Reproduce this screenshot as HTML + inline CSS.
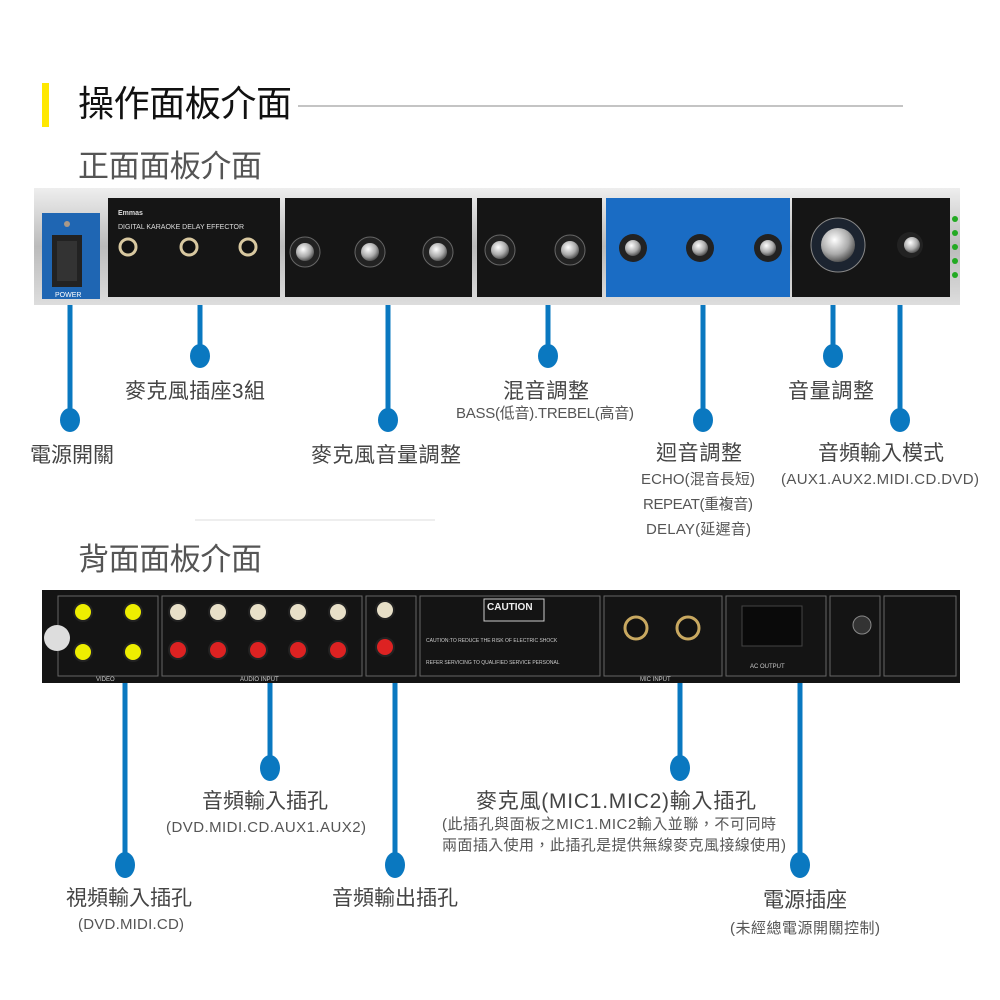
<!DOCTYPE html>
<html><head><meta charset="utf-8"><style>
html,body{margin:0;padding:0;background:#fff}
svg{display:block}
text{font-family:"Liberation Sans","Noto Sans CJK TC",sans-serif}
.l{font-size:21px;fill:#444}
.s{font-size:15px;fill:#555}
.w{font-size:5px;fill:#ccc}
</style></head><body>
<svg width="1000" height="1000" viewBox="0 0 1000 1000" xmlns="http://www.w3.org/2000/svg">
<defs>
<radialGradient id="knob" cx="40%" cy="35%" r="70%"><stop offset="0" stop-color="#fff"/><stop offset=".6" stop-color="#aaa"/><stop offset="1" stop-color="#444"/></radialGradient>
<linearGradient id="silver" x1="0" y1="0" x2="0" y2="1"><stop offset="0" stop-color="#eee"/><stop offset=".5" stop-color="#bbb"/><stop offset="1" stop-color="#ddd"/></linearGradient>
</defs>
<!-- header -->
<rect x="42" y="83" width="7" height="44" fill="#ffe800"/>
<text x="78" y="116" font-size="36" fill="#111" textLength="214">操作面板介面</text>
<line x1="298" y1="106" x2="903" y2="106" stroke="#888" stroke-width="1"/>
<text x="78" y="177" font-size="31" fill="#555" textLength="184">正面面板介面</text>
<line x1="195" y1="520" x2="435" y2="520" stroke="#eee" stroke-width="2"/>
<text x="78" y="570" font-size="31" fill="#555" textLength="184">背面面板介面</text>

<!-- front panel -->
<rect x="34" y="188" width="926" height="117" fill="url(#silver)"/>
<rect x="42" y="213" width="58" height="86" fill="#1f66b3"/>
<rect x="52" y="235" width="30" height="52" fill="#222"/>
<rect x="57" y="241" width="20" height="40" fill="#333"/>
<circle cx="67" cy="224" r="3" fill="#a98"/>
<text x="55" y="297" font-size="7" fill="#fff">POWER</text>
<rect x="108" y="198" width="172" height="99" fill="#151515"/>
<text x="118" y="215" font-size="7" fill="#ddd" font-weight="bold">Emmas</text>
<text x="118" y="229" font-size="7" fill="#ddd">DIGITAL KARAOKE DELAY EFFECTOR</text>
<g fill="#111" stroke="#d8c8a0" stroke-width="3"><circle cx="128" cy="247" r="8"/><circle cx="189" cy="247" r="8"/><circle cx="248" cy="247" r="8"/></g>
<rect x="285" y="198" width="187" height="99" fill="#151515"/>
<rect x="477" y="198" width="125" height="99" fill="#151515"/>
<rect x="606" y="198" width="184" height="99" fill="#1a6cc4"/>
<rect x="792" y="198" width="158" height="99" fill="#151515"/>
<g>
<circle cx="305" cy="252" r="15" fill="#222" stroke="#666"/><circle cx="305" cy="252" r="9" fill="url(#knob)"/>
<circle cx="370" cy="252" r="15" fill="#222" stroke="#666"/><circle cx="370" cy="252" r="9" fill="url(#knob)"/>
<circle cx="438" cy="252" r="15" fill="#222" stroke="#666"/><circle cx="438" cy="252" r="9" fill="url(#knob)"/>
<circle cx="500" cy="250" r="15" fill="#222" stroke="#666"/><circle cx="500" cy="250" r="9" fill="url(#knob)"/>
<circle cx="570" cy="250" r="15" fill="#222" stroke="#666"/><circle cx="570" cy="250" r="9" fill="url(#knob)"/>
<circle cx="633" cy="248" r="14" fill="#222"/><circle cx="633" cy="248" r="8" fill="url(#knob)"/>
<circle cx="700" cy="248" r="14" fill="#222"/><circle cx="700" cy="248" r="8" fill="url(#knob)"/>
<circle cx="768" cy="248" r="14" fill="#222"/><circle cx="768" cy="248" r="8" fill="url(#knob)"/>
<circle cx="838" cy="245" r="27" fill="#1c2430" stroke="#888"/><circle cx="838" cy="245" r="17" fill="url(#knob)"/>
<circle cx="910" cy="245" r="13" fill="#222"/><circle cx="912" cy="245" r="8" fill="url(#knob)"/>
</g>
<g fill="#2a2"><circle cx="955" cy="219" r="3"/><circle cx="955" cy="233" r="3"/><circle cx="955" cy="247" r="3"/><circle cx="955" cy="261" r="3"/><circle cx="955" cy="275" r="3"/></g>

<!-- front connectors -->
<g stroke="#0a78c0" stroke-width="5">
<line x1="70" y1="305" x2="70" y2="418"/><line x1="200" y1="305" x2="200" y2="354"/>
<line x1="388" y1="305" x2="388" y2="418"/><line x1="548" y1="305" x2="548" y2="354"/>
<line x1="703" y1="305" x2="703" y2="418"/><line x1="833" y1="305" x2="833" y2="354"/>
<line x1="900" y1="305" x2="900" y2="418"/>
</g>
<g fill="#0a78c0">
<ellipse cx="70" cy="420" rx="10" ry="12"/><ellipse cx="200" cy="356" rx="10" ry="12"/>
<ellipse cx="388" cy="420" rx="10" ry="12"/><ellipse cx="548" cy="356" rx="10" ry="12"/>
<ellipse cx="703" cy="420" rx="10" ry="12"/><ellipse cx="833" cy="356" rx="10" ry="12"/>
<ellipse cx="900" cy="420" rx="10" ry="12"/>
</g>
<text class="l" x="125" y="398" textLength="140">麥克風插座3組</text>
<text class="l" x="30" y="462" textLength="84">電源開關</text>
<text class="l" x="311" y="462" textLength="150">麥克風音量調整</text>
<text class="l" x="503" y="398" textLength="86">混音調整</text>
<text class="s" x="456" y="418" textLength="178">BASS(低音).TREBEL(高音)</text>
<text class="l" x="656" y="460" textLength="86">迴音調整</text>
<text class="l" x="788" y="398" textLength="86">音量調整</text>
<text class="l" x="818" y="460" textLength="126">音頻輸入模式</text>
<text class="s" x="641" y="484" textLength="114">ECHO(混音長短)</text>
<text class="s" x="643" y="509" textLength="110">REPEAT(重複音)</text>
<text class="s" x="646" y="534" textLength="105">DELAY(延遲音)</text>
<text class="s" x="781" y="484" textLength="198">(AUX1.AUX2.MIDI.CD.DVD)</text>

<!-- back panel -->
<rect x="42" y="590" width="918" height="93" fill="#141414"/>
<g fill="none" stroke="#666" stroke-width="1">
<rect x="58" y="596" width="100" height="80"/><rect x="162" y="596" width="200" height="80"/>
<rect x="366" y="596" width="50" height="80"/><rect x="420" y="596" width="180" height="80"/>
<rect x="604" y="596" width="118" height="80"/><rect x="726" y="596" width="100" height="80"/>
<rect x="830" y="596" width="50" height="80"/><rect x="884" y="596" width="72" height="80"/>
</g>
<circle cx="57" cy="638" r="13" fill="#ddd"/>
<g stroke="#222" stroke-width="2">
<circle cx="83" cy="612" r="9" fill="#ee0"/><circle cx="133" cy="612" r="9" fill="#ee0"/>
<circle cx="83" cy="652" r="9" fill="#ee0"/><circle cx="133" cy="652" r="9" fill="#ee0"/>
<circle cx="178" cy="612" r="9" fill="#e8e0c8"/><circle cx="218" cy="612" r="9" fill="#e8e0c8"/>
<circle cx="258" cy="612" r="9" fill="#e8e0c8"/><circle cx="298" cy="612" r="9" fill="#e8e0c8"/><circle cx="338" cy="612" r="9" fill="#e8e0c8"/>
<circle cx="178" cy="650" r="9" fill="#d22"/><circle cx="218" cy="650" r="9" fill="#d22"/>
<circle cx="258" cy="650" r="9" fill="#d22"/><circle cx="298" cy="650" r="9" fill="#d22"/><circle cx="338" cy="650" r="9" fill="#d22"/>
<circle cx="385" cy="610" r="9" fill="#e8e0c8"/><circle cx="385" cy="647" r="9" fill="#d22"/>
<circle cx="636" cy="628" r="11" fill="#111" stroke="#c8a860" stroke-width="3"/><circle cx="688" cy="628" r="11" fill="#111" stroke="#c8a860" stroke-width="3"/>
</g>
<rect x="742" y="606" width="60" height="40" fill="#0a0a0a" stroke="#444"/>
<circle cx="862" cy="625" r="9" fill="#333" stroke="#888"/>
<rect x="484" y="599" width="60" height="22" fill="none" stroke="#ccc"/>
<text x="487" y="610" font-size="10" fill="#eee" font-weight="bold">CAUTION</text>
<text x="426" y="642" font-size="5" fill="#ccc">CAUTION:TO REDUCE THE RISK OF ELECTRIC SHOCK</text>
<text x="426" y="664" font-size="5" fill="#ccc">REFER SERVICING TO QUALIFIED SERVICE PERSONAL</text>
<text x="96" y="681" font-size="6" fill="#ccc">VIDEO</text>
<text x="240" y="681" font-size="6" fill="#ccc">AUDIO INPUT</text>
<text x="640" y="681" font-size="6" fill="#ccc">MIC INPUT</text>
<text x="750" y="668" font-size="6" fill="#ccc">AC OUTPUT</text>

<!-- back connectors -->
<g stroke="#0a78c0" stroke-width="5">
<line x1="125" y1="683" x2="125" y2="862"/><line x1="270" y1="683" x2="270" y2="766"/>
<line x1="395" y1="683" x2="395" y2="862"/><line x1="680" y1="683" x2="680" y2="766"/>
<line x1="800" y1="683" x2="800" y2="862"/>
</g>
<g fill="#0a78c0">
<ellipse cx="125" cy="865" rx="10" ry="13"/><ellipse cx="270" cy="768" rx="10" ry="13"/>
<ellipse cx="395" cy="865" rx="10" ry="13"/><ellipse cx="680" cy="768" rx="10" ry="13"/>
<ellipse cx="800" cy="865" rx="10" ry="13"/>
</g>
<text class="l" x="202" y="808" textLength="126">音頻輸入插孔</text>
<text class="s" x="166" y="832" textLength="200">(DVD.MIDI.CD.AUX1.AUX2)</text>
<text class="l" x="476" y="808" textLength="280">麥克風(MIC1.MIC2)輸入插孔</text>
<text class="s" x="442" y="829" textLength="334">(此插孔與面板之MIC1.MIC2輸入並聯，不可同時</text>
<text class="s" x="442" y="850" textLength="344">兩面插入使用，此插孔是提供無線麥克風接線使用)</text>
<text class="l" x="66" y="905" textLength="126">視頻輸入插孔</text>
<text class="s" x="78" y="929" textLength="106">(DVD.MIDI.CD)</text>
<text class="l" x="332" y="905" textLength="126">音頻輸出插孔</text>
<text class="l" x="763" y="907" textLength="84">電源插座</text>
<text class="s" x="730" y="933" textLength="150">(未經總電源開關控制)</text>
</svg>
</body></html>
